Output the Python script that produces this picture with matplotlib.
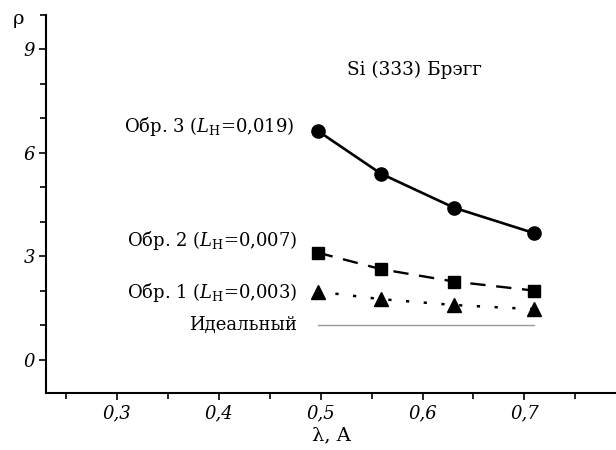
import matplotlib
matplotlib.use("Agg")
import matplotlib.pyplot as plt
from matplotlib.ticker import MultipleLocator, FuncFormatter

# Data
wavelength = [0.497, 0.559, 0.631, 0.709]
rho_sample3 = [6.64, 5.40, 4.41, 3.68]
rho_sample2 = [3.11, 2.63, 2.27, 2.01]
rho_sample1 = [1.98, 1.76, 1.59, 1.47]
ideal_x = [0.497, 0.709]
ideal_rho = [1.0, 1.0]

label3 = r"Обр. 3 ($L_{\mathrm{H}}$=0,019)"
label2 = r"Обр. 2 ($L_{\mathrm{H}}$=0,007)"
label1 = r"Обр. 1 ($L_{\mathrm{H}}$=0,003)"
label_ideal = "Идеальный"
title_text = "Si (333) Брэгг"
xlabel_text = "λ, A"
ylabel_text = "ρ"

plt.rcParams['font.family'] = ['DejaVu Serif']
plt.rcParams['mathtext.fontset'] = 'dejavuserif'

fig = plt.figure(figsize=(6.16, 4.5), dpi=100)
ax = fig.add_axes([46/616, 1-393.3/450, 1-46/616, (393.3-15)/450])

ax.plot(wavelength, rho_sample3, color='black', lw=1.9, marker='o', ms=9.5)
ax.plot(wavelength, rho_sample2, color='black', lw=1.7, marker='s', ms=8,
        dashes=(6.5, 4.5))
ax.plot(wavelength, rho_sample1, color='black', lw=1.8, marker='^', ms=9.5,
        dashes=(1.3, 5.8))
ax.plot(ideal_x, ideal_rho, color='#999999', lw=1.0)

ax.set_xlim(0.23, 0.79)
ax.set_ylim(-0.97, 10)

for s in ['top', 'right']:
    ax.spines[s].set_visible(False)
for s in ['left', 'bottom']:
    ax.spines[s].set_linewidth(1.5)

ax.xaxis.set_major_locator(MultipleLocator(0.1))
ax.xaxis.set_minor_locator(MultipleLocator(0.05))
ax.yaxis.set_major_locator(MultipleLocator(3))
ax.yaxis.set_minor_locator(MultipleLocator(1))
ax.xaxis.set_major_formatter(FuncFormatter(lambda v, p: f"{v:.1f}".replace('.', ',')))
ax.yaxis.set_major_formatter(FuncFormatter(lambda v, p: f"{v:.0f}"))
ax.tick_params(which='both', direction='out', width=1.2)
ax.tick_params(which='major', length=5, labelsize=13, pad=3)
ax.tick_params(which='minor', length=4)
for lbl in ax.get_xticklabels() + ax.get_yticklabels():
    lbl.set_fontstyle('italic')

ax.set_xlabel(xlabel_text, fontsize=14, labelpad=3)
fig.text(18/616, 1-19/450, ylabel_text, fontsize=14, ha='center', va='center')

tkw = dict(fontsize=13, ha='right', va='center')
ax.annotate(label3, xy=(294, 450-126), xycoords='figure pixels', **tkw)
ax.annotate(label2, xy=(297, 450-240), xycoords='figure pixels', **tkw)
ax.annotate(label1, xy=(297, 450-292), xycoords='figure pixels', **tkw)
ax.annotate(label_ideal, xy=(297, 450-325), xycoords='figure pixels', **tkw)
ax.annotate(title_text, xy=(414, 450-70), xycoords='figure pixels',
            fontsize=13.3, ha='center', va='center')

fig.savefig("out.png", dpi=100)
